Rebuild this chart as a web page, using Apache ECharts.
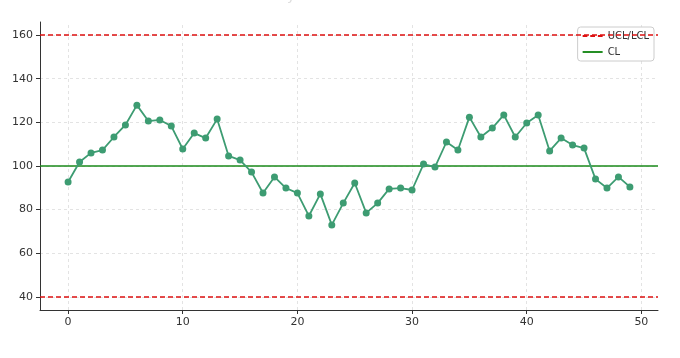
<!DOCTYPE html>
<html>
<head>
<meta charset="utf-8">
<script src="https://cdn.jsdelivr.net/npm/echarts@6/dist/echarts.min.js"></script>
<style>html,body{margin:0;padding:0;background:#fff}#c{width:680px;height:358px}</style>
</head>
<body>
<div id="c"></div>
<script>
const titleText = 'Scenario of Cycles or Patterns in the Data';
const sampleIdx = Array.from({length: 50}, (_, i) => i);
const values = [92.7,101.8,106,107.3,113.3,118.8,127.9,120.6,121.1,118.3,
  107.8,115.1,112.8,121.5,104.6,102.7,97.2,87.6,95,89.9,
  87.6,77.1,87.2,73,83,92.2,78.5,83,89.5,89.9,
  89,100.9,99.5,111,107.3,122.4,113.3,117.4,123.4,113.3,
  119.7,123.4,106.9,112.8,109.6,108.2,94,89.9,95,90.4];
const UCL = 160, LCL = 40, CL = 100;
const xTicks = [0,10,20,30,40,50];
const yTicks = [40,60,80,100,120,140,160];

const chart = echarts.init(document.getElementById('c'), null, {renderer: 'canvas'});
const font = 'DejaVu Sans';
const gridLineStyle = {color: '#dcdcdc', type: [3,3], width: 0.8};
const redC = '#d11', greenC = '#1a8a1a';
chart.setOption({
  animation: false,
  textStyle: {fontFamily: font},
  title: {text: titleText, left: 'center', top: -16, textStyle: {fontSize: 14, color: '#ddd', fontWeight: 'normal', fontFamily: font}},
  grid: {left: 40, right: 22, top: 22, bottom: 48, containLabel: false},
  legend: {
    data: [
      {name: 'UCL/LCL', icon: 'path://M0,0h5v2h-5z M8,0h5v2h-5z M16,0h5v2h-5z', itemStyle: {color: redC}},
      {name: 'CL', icon: 'path://M0,0h21v2h-21z', itemStyle: {color: greenC}}
    ],
    orient: 'vertical', right: 26, top: 27,
    borderColor: '#ccc', borderWidth: 1, borderRadius: 3, backgroundColor: '#fff',
    padding: [4, 5, 4, 5], itemGap: 6, itemWidth: 20, itemHeight: 2,
    textStyle: {fontSize: 10, color: '#333', fontFamily: font}
  },
  xAxis: {
    type: 'value', min: -2.45, max: 51.45,
    axisLine: {show: true, onZero: false, lineStyle: {color: '#333', width: 1}},
    axisTick: {show: true, customValues: xTicks, length: 4, inside: false, lineStyle: {color: '#333'}},
    axisLabel: {customValues: xTicks, fontSize: 11, color: '#333', margin: 7, fontFamily: font},
    splitLine: {show: false}
  },
  yAxis: {
    type: 'value', min: 34, max: 166,
    axisLine: {show: true, onZero: false, lineStyle: {color: '#333', width: 1}},
    axisTick: {show: true, customValues: yTicks, length: 4, lineStyle: {color: '#333'}},
    axisLabel: {customValues: yTicks, fontSize: 11, color: '#333', margin: 7, fontFamily: font},
    splitLine: {show: false}
  },
  series: [
    {
      name: 'grid', type: 'line', data: [], silent: true, z: 0,
      markLine: {
        silent: true, symbol: 'none', label: {show: false}, animation: false, z: 0,
        lineStyle: gridLineStyle,
        data: xTicks.map(v => ({xAxis: v})).concat(yTicks.map(v => ({yAxis: v})))
      }
    },
    {
      name: 'data', type: 'line', data: sampleIdx.map((x, i) => [x, values[i]]),
      symbol: 'circle', symbolSize: 7, z: 10, showAllSymbol: true,
      itemStyle: {color: '#3d9c72', borderWidth: 0, opacity: 1}, lineStyle: {color: '#3d9c72', width: 1.8}
    },
    {
      name: 'UCL/LCL', type: 'line', data: [], symbol: 'none',
      itemStyle: {color: redC}, lineStyle: {color: redC, type: [5,3], width: 1.5},
      markLine: {
        silent: true, symbol: 'none', label: {show: false},
        lineStyle: {color: redC, type: [5,3], width: 1.5},
        data: [{yAxis: UCL}, {yAxis: LCL}]
      }
    },
    {
      name: 'CL', type: 'line', data: [], symbol: 'none',
      itemStyle: {color: greenC}, lineStyle: {color: greenC, width: 1.5},
      markLine: {
        silent: true, symbol: 'none', label: {show: false},
        lineStyle: {color: greenC, type: 'solid', width: 1.5},
        data: [{yAxis: CL}]
      }
    }
  ]
});
</script>
</body>
</html>
